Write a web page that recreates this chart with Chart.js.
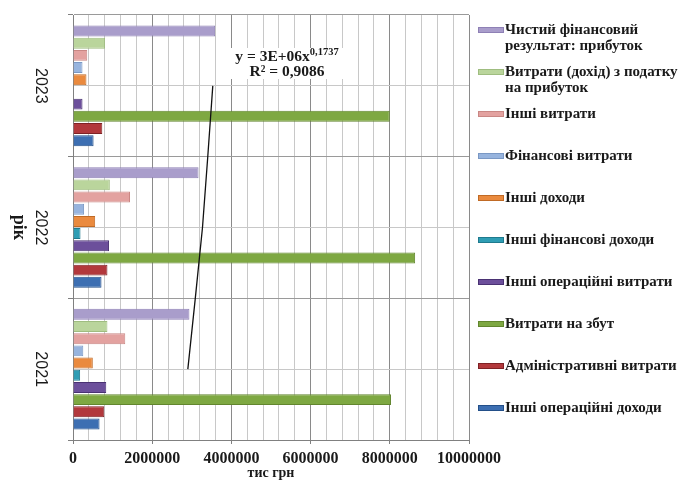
<!DOCTYPE html>
<html>
<head>
<meta charset="utf-8">
<script src="https://cdn.jsdelivr.net/npm/chart.js@4.4.0/dist/chart.umd.min.js"></script>
<style>
html, body { margin: 0; padding: 0; background: #fff; }
#wrap { width: 687px; height: 482px; position: relative; }
</style>
</head>
<body>
<div id="wrap"><canvas id="stat"></canvas></div>
<script>
// years, top to bottom as in the picture
var years = ['2023', '2022', '2021'];

// values, тис грн (same order as years)
var netProfit       = [3590000, 3170000, 2940000];
var incomeTax       = [810000, 930000, 870000];
var otherExpenses   = [360000, 1440000, 1320000];
var financeCosts    = [240000, 280000, 260000];
var otherIncome     = [340000, 560000, 500000];
var otherFinIncome  = [0, 190000, 180000];
var otherOpExpenses = [240000, 910000, 840000];
var sellingCosts    = [8000000, 8640000, 8030000];
var adminCosts      = [740000, 870000, 790000];
var otherOpIncome   = [520000, 720000, 670000];

// power trend line
var trend = [3530000, 3270000, 2900000];

var names = [
  ['Чистий фінансовий', 'результат: прибуток'],
  ['Витрати (дохід) з податку', 'на прибуток'],
  ['Інші витрати'],
  ['Фінансові витрати'],
  ['Інші доходи'],
  ['Інші фінансові доходи'],
  ['Інші операційні витрати'],
  ['Витрати на збут'],
  ['Адміністративні витрати'],
  ['Інші операційні доходи']
];
var series = [netProfit, incomeTax, otherExpenses, financeCosts, otherIncome,
  otherFinIncome, otherOpExpenses, sellingCosts, adminCosts, otherOpIncome];
var fills   = ['#a99dcb', '#bad59c', '#e3a2a0', '#97b4de', '#ea8a3e', '#2f9db4', '#6c4f9b', '#7ea842', '#b2383c', '#3d6fb2'];
var borders = ['#8e80b5', '#9fbd80', '#c98784', '#7a98c4', '#c06a25', '#1f7a8e', '#4a3273', '#62862e', '#7e2225', '#234f89'];

var serif = '"Liberation Serif", "DejaVu Serif", serif';
var majorStep = 2000000;

var datasets = series.map(function (s, i) {
  return {
    label: names[i].join(' '),
    legendLines: names[i],
    data: s,
    backgroundColor: fills[i],
    borderColor: borders[i],
    borderWidth: 1,
    categoryPercentage: 0.86,
    barPercentage: 0.9
  };
});
datasets.push({
  type: 'line',
  label: 'trend',
  indexAxis: 'y',
  data: trend,
  borderColor: '#111',
  borderWidth: 1.3,
  pointRadius: 0,
  tension: 0.15,
  order: -1
});

// legend on the right, wrapped like the original
const sideLegend = {
  id: 'sideLegend',
  afterDraw(chart) {
    const ctx = chart.ctx, a = chart.chartArea;
    ctx.save();
    ctx.font = 'bold 15px ' + serif;
    ctx.textBaseline = 'middle';
    ctx.textAlign = 'left';
    chart.data.datasets.forEach(function (ds, i) {
      if (ds.type === 'line') return;
      const x = a.right + 9;
      const y = a.top + 15 + i * 42;
      ctx.fillStyle = ds.backgroundColor;
      ctx.fillRect(x, y - 3, 26, 6);
      ctx.strokeStyle = ds.borderColor;
      ctx.lineWidth = 1;
      ctx.strokeRect(x + 0.5, y - 2.5, 25, 5);
      ctx.fillStyle = '#1a1a1a';
      ds.legendLines.forEach(function (t, k) {
        ctx.fillText(t, x + 27, y + k * 16);
      });
    });
    ctx.restore();
  }
};

// equation box, year labels and axis title, all turned clockwise like the original
const extras = {
  id: 'extras',
  afterDatasetsDraw(chart) {
    const ctx = chart.ctx, a = chart.chartArea;
    const x0 = a.left + 157, y0 = a.top + 33;
    ctx.save();
    ctx.fillStyle = '#fff';
    ctx.fillRect(x0, y0, 114, 31);
    ctx.fillStyle = '#1a1a1a';
    ctx.textBaseline = 'middle';
    ctx.textAlign = 'left';
    ctx.font = 'bold 15.5px ' + serif;
    const main = 'y = 3E+06x';
    const w1 = ctx.measureText(main).width;
    ctx.font = 'bold 10.5px ' + serif;
    const sup = '0,1737';
    const w2 = ctx.measureText(sup).width;
    const cx = x0 + 57;
    let sx = cx - (w1 + w2) / 2;
    ctx.font = 'bold 15.5px ' + serif;
    ctx.fillText(main, sx, y0 + 9);
    ctx.font = 'bold 10.5px ' + serif;
    ctx.fillText(sup, sx + w1, y0 + 4);
    ctx.font = 'bold 15.5px ' + serif;
    ctx.textAlign = 'center';
    ctx.fillText('R² = 0,9086', cx, y0 + 24);
    ctx.restore();
  },
  afterDraw(chart) {
    const ctx = chart.ctx, a = chart.chartArea, ys = chart.scales.y;
    ctx.save();
    ctx.fillStyle = '#1a1a1a';
    ctx.textAlign = 'center';
    ctx.textBaseline = 'middle';
    ys.getLabels().forEach(function (lab, i) {
      ctx.save();
      ctx.translate(a.left - 33, ys.getPixelForValue(i));
      ctx.rotate(Math.PI / 2);
      ctx.font = '16px "Liberation Sans", Arial, sans-serif';
      ctx.fillText(lab, 0, 0);
      ctx.restore();
    });
    ctx.translate(19, (a.top + a.bottom) / 2);
    ctx.rotate(Math.PI / 2);
    ctx.font = 'bold 18px ' + serif;
    ctx.fillText('рік', 0, 0);
    ctx.restore();
  }
};

function isMajor(v) { return Math.round(v) % majorStep === 0; }

const ctx = document.getElementById('stat').getContext('2d');
let chart = new Chart(ctx, {
  type: 'bar',
  data: { labels: years, datasets: datasets },
  plugins: [sideLegend, extras],
  options: {
    indexAxis: 'y',
    responsive: true,
    maintainAspectRatio: false,
    animation: false,
    layout: { padding: { top: 15, right: 218, bottom: 0, left: 0 } },
    plugins: {
      legend: { display: false },
      tooltip: { enabled: false }
    },
    scales: {
      x: {
        min: 0,
        max: 10000000,
        border: { color: '#808080' },
        grid: {
          color: function (c) { return c.tick && isMajor(c.tick.value) ? '#8a8a8a' : '#c8c8c8'; },
          tickLength: 4,
          tickColor: function (c) { return c.tick && isMajor(c.tick.value) ? '#808080' : 'rgba(0,0,0,0)'; }
        },
        ticks: {
          stepSize: 400000,
          autoSkip: false,
          maxRotation: 0,
          padding: 5,
          color: '#1a1a1a',
          font: { family: serif, size: 16, weight: 'bold' },
          callback: function (v) { return isMajor(v) ? String(Math.round(v)) : ''; }
        },
        title: {
          display: true,
          text: 'тис грн',
          color: '#1a1a1a',
          font: { family: serif, size: 14, weight: 'bold' },
          padding: { top: 0, bottom: 0 }
        },
        afterFit: function (s) { s.height = 42; }
      },
      y: {
        offset: true,
        border: { color: '#808080' },
        grid: { offset: true, color: '#9a9a9a', tickLength: 5, tickColor: '#808080' },
        ticks: { display: false },
        afterFit: function (s) { s.width = 73; }
      },
      y2: {
        type: 'category',
        labels: years,
        offset: true,
        position: 'left',
        border: { display: false },
        grid: { offset: false, color: '#c8c8c8', drawTicks: false },
        ticks: { display: false },
        afterFit: function (s) { s.width = 0; }
      }
    }
  }
});
</script>
</body>
</html>
